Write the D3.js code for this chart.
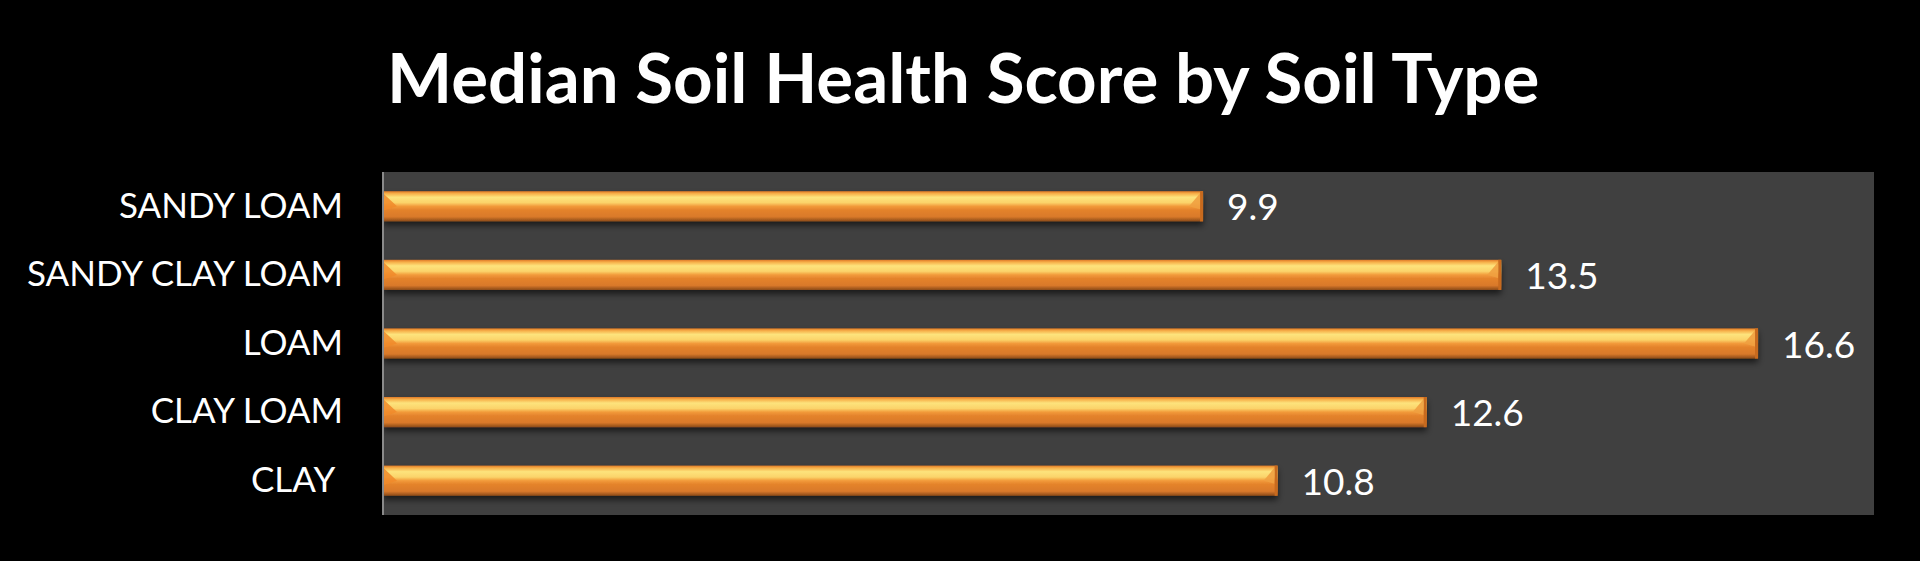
<!DOCTYPE html>
<html><head><meta charset="utf-8">
<script src="https://cdn.jsdelivr.net/npm/d3@7"></script>
<style>html,body{margin:0;padding:0;background:#000;}svg{display:block;}</style>
</head><body>
<svg id="chart" width="1920" height="561"></svg>
<script>
const title = "Median Soil Health Score by Soil Type";
const categories = ["SANDY LOAM","SANDY CLAY LOAM","LOAM","CLAY LOAM","CLAY "];
const values = [9.9, 13.5, 16.6, 12.6, 10.8];
const xDomain = [0, 18];

const W = 1920, H = 561;
const m = {left: 383, right: 46, top: 172, bottom: 46};
const svg = d3.select("#chart");
svg.append("rect").attr("width", W).attr("height", H).attr("fill", "#000");

const defs = svg.append("defs");
const g1 = defs.append("linearGradient").attr("id","barg").attr("x1",0).attr("y1",0).attr("x2",0).attr("y2",1);
[[0,"#e07a26"],[0.08,"#f7b04a"],[0.2,"#fde37c"],[0.38,"#fbd36a"],[0.5,"#f29a3a"],[0.62,"#e4832c"],[0.85,"#d9792a"],[1,"#8a4a18"]]
  .forEach(([o,c]) => g1.append("stop").attr("offset",o).attr("stop-color",c));
const sh = defs.append("filter").attr("id","shadow").attr("x","-5%").attr("y","-30%").attr("width","110%").attr("height","190%");
sh.append("feDropShadow").attr("dx",0).attr("dy",4).attr("stdDeviation",3).attr("flood-color","#000").attr("flood-opacity",0.6);

const x = d3.scaleLinear().domain(xDomain).range([m.left, W - m.right]);
const y = d3.scaleBand().domain(categories).range([m.top, H - m.bottom]).paddingInner(0.56).paddingOuter(0.28);

svg.append("rect").attr("x", m.left).attr("y", m.top)
  .attr("width", W - m.right - m.left).attr("height", H - m.bottom - m.top).attr("fill", "#404040");

svg.append("text").attr("x", 387).attr("y", 103)
  .attr("font-family","Lato, 'Open Sans', sans-serif").attr("font-weight","bold")
  .attr("font-size", 69).attr("fill","#fff").text(title);

const data = categories.map((c,i) => ({c, v: values[i]}));
const bars = svg.append("g");
bars.selectAll("rect.bar").data(data).join("rect").attr("class","bar")
  .attr("x", x(0)).attr("y", d => y(d.c)).attr("width", d => x(d.v) - x(0)).attr("height", y.bandwidth())
  .attr("fill","url(#barg)").attr("filter","url(#shadow)");
// right-end bevel
bars.selectAll("path.bevel").data(data).join("path").attr("class","bevel")
  .attr("d", d => {
    const xe = x(d.v), yt = y(d.c), h = y.bandwidth();
    return `M${xe-14},${yt+h*0.5} L${xe-3},${yt+2} L${xe-3},${yt+h*0.6} Z`;
  })
  .attr("fill","#f0a040").attr("opacity",0.9);
// left-end bevel
bars.selectAll("path.lbevel").data(data).join("path").attr("class","lbevel")
  .attr("d", d => {
    const xs = x(0), yt = y(d.c), h = y.bandwidth();
    return `M${xs},${yt+2} L${xs+14},${yt+h*0.5} L${xs},${yt+h*0.65} Z`;
  })
  .attr("fill","#f08a2a").attr("opacity",0.85);
bars.selectAll("rect.edge").data(data).join("rect").attr("class","edge")
  .attr("x", d => x(d.v) - 3).attr("y", d => y(d.c)).attr("width", 3).attr("height", y.bandwidth())
  .attr("fill","#c86a1e");

svg.append("line").attr("x1", m.left).attr("x2", m.left).attr("y1", m.top).attr("y2", H - m.bottom)
  .attr("stroke","#8a8a8a").attr("stroke-width",2);

const yAxis = d3.axisLeft(y).tickSize(0).tickPadding(40);
const ya = svg.append("g").attr("transform", `translate(${m.left},0)`).call(yAxis);
ya.select(".domain").remove();
ya.selectAll("text").attr("fill","#fff").attr("font-family","Lato, 'Open Sans', sans-serif")
  .attr("font-size", 35).style("white-space","pre");

svg.append("g").selectAll("text").data(data).join("text")
  .attr("x", d => x(d.v) + 24).attr("y", d => y(d.c) + y.bandwidth()/2)
  .attr("dy","0.38em").attr("fill","#fff").attr("font-family","Lato, 'Open Sans', sans-serif")
  .attr("font-size", 37).text(d => d.v.toFixed(1));
</script>
</body></html>
